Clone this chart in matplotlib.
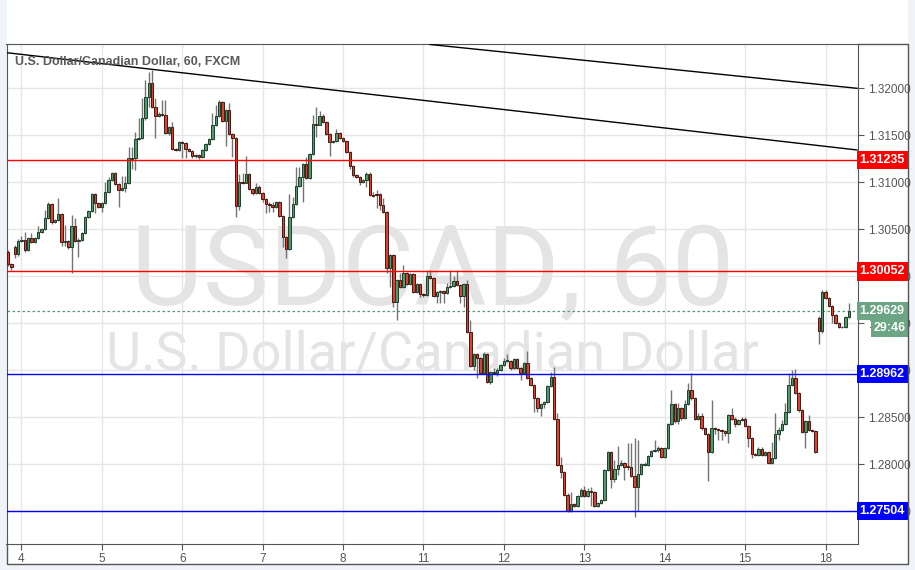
import numpy as np
import matplotlib
matplotlib.use('Agg')
import matplotlib.pyplot as plt
import matplotlib.transforms as mtransforms
from matplotlib.patches import Rectangle
from matplotlib.lines import Line2D

# hourly USDCAD candles
opens = [
    1.3026, 1.3013, 1.3031, 1.3024, 1.3038, 1.3039, 1.3028, 1.3041, 1.3036, 1.3041, 1.3047, 1.3050,
    1.3062, 1.3077, 1.3058, 1.3060, 1.3066, 1.3036, 1.3038, 1.3031, 1.3054, 1.3038, 1.3039, 1.3046,
    1.3063, 1.3069, 1.3088, 1.3078, 1.3074, 1.3078, 1.3090, 1.3102, 1.3110, 1.3098, 1.3092, 1.3094,
    1.3099, 1.3126, 1.3126, 1.3146, 1.3147, 1.3168, 1.3191, 1.3206, 1.3180, 1.3171, 1.3173, 1.3172,
    1.3152, 1.3159, 1.3135, 1.3134, 1.3143, 1.3142, 1.3135, 1.3133, 1.3128, 1.3129, 1.3127, 1.3134,
    1.3141, 1.3146, 1.3161, 1.3171, 1.3185, 1.3165, 1.3177, 1.3151, 1.3147, 1.3075, 1.3100, 1.3099,
    1.3109, 1.3093, 1.3089, 1.3095, 1.3089, 1.3082, 1.3077, 1.3076, 1.3074, 1.3079, 1.3064, 1.3042,
    1.3029, 1.3063, 1.3077, 1.3096, 1.3106, 1.3119, 1.3105, 1.3130, 1.3162, 1.3161, 1.3171, 1.3164,
    1.3151, 1.3143, 1.3144, 1.3152, 1.3147, 1.3144, 1.3132, 1.3117, 1.3108, 1.3106, 1.3100, 1.3102,
    1.3109, 1.3086, 1.3088, 1.3088, 1.3076, 1.3068, 1.3009, 1.3023, 1.2973, 1.2996, 1.2989, 1.3004,
    1.2992, 1.3002, 1.2983, 1.2992, 1.2981, 1.2980, 1.3000, 1.2998, 1.2979, 1.2983, 1.2984, 1.2982,
    1.2989, 1.2990, 1.2995, 1.2991, 1.2979, 1.2992, 1.2941, 1.2905, 1.2917, 1.2913, 1.2897, 1.2917,
    1.2888, 1.2898, 1.2897, 1.2900, 1.2906, 1.2910, 1.2910, 1.2902, 1.2912, 1.2902, 1.2897, 1.2908,
    1.2892, 1.2884, 1.2871, 1.2860, 1.2864, 1.2866, 1.2883, 1.2893, 1.2848, 1.2799, 1.2792, 1.2767,
    1.2750, 1.2758, 1.2756, 1.2766, 1.2773, 1.2766, 1.2772, 1.2771, 1.2756, 1.2759, 1.2762, 1.2794,
    1.2813, 1.2784, 1.2795, 1.2799, 1.2801, 1.2798, 1.2797, 1.2788, 1.2776, 1.2790, 1.2799, 1.2799,
    1.2809, 1.2814, 1.2815, 1.2817, 1.2808, 1.2817, 1.2843, 1.2864, 1.2846, 1.2860, 1.2849, 1.2864,
    1.2879, 1.2871, 1.2848, 1.2851, 1.2839, 1.2832, 1.2813, 1.2839, 1.2838, 1.2837, 1.2835, 1.2833,
    1.2852, 1.2848, 1.2843, 1.2848, 1.2848, 1.2841, 1.2828, 1.2811, 1.2810, 1.2816, 1.2810, 1.2813,
    1.2801, 1.2807, 1.2832, 1.2837, 1.2843, 1.2856, 1.2884, 1.2892, 1.2876, 1.2858, 1.2834, 1.2846,
    1.2837, 1.2835, 1.2956, 1.2942, 1.2983, 1.2977, 1.2968, 1.2959, 1.2950, 1.2946, 1.2946, 1.2957,
]
highs = [
    1.3028, 1.3014, 1.3033, 1.3040, 1.3043, 1.3047, 1.3042, 1.3046, 1.3042, 1.3054, 1.3051, 1.3071,
    1.3079, 1.3078, 1.3061, 1.3083, 1.3067, 1.3055, 1.3039, 1.3065, 1.3062, 1.3041, 1.3047, 1.3064,
    1.3071, 1.3089, 1.3089, 1.3079, 1.3079, 1.3100, 1.3106, 1.3111, 1.3111, 1.3099, 1.3107, 1.3107,
    1.3138, 1.3138, 1.3154, 1.3168, 1.3190, 1.3209, 1.3217, 1.3219, 1.3190, 1.3175, 1.3188, 1.3188,
    1.3160, 1.3164, 1.3136, 1.3144, 1.3144, 1.3143, 1.3136, 1.3134, 1.3130, 1.3130, 1.3135, 1.3142,
    1.3147, 1.3174, 1.3182, 1.3188, 1.3186, 1.3178, 1.3184, 1.3152, 1.3148, 1.3109, 1.3110, 1.3128,
    1.3110, 1.3094, 1.3099, 1.3097, 1.3090, 1.3083, 1.3079, 1.3079, 1.3080, 1.3080, 1.3065, 1.3043,
    1.3088, 1.3084, 1.3116, 1.3116, 1.3121, 1.3127, 1.3131, 1.3172, 1.3180, 1.3176, 1.3173, 1.3165,
    1.3152, 1.3145, 1.3157, 1.3154, 1.3148, 1.3145, 1.3133, 1.3118, 1.3109, 1.3107, 1.3104, 1.3111,
    1.3111, 1.3090, 1.3092, 1.3089, 1.3083, 1.3069, 1.3024, 1.3024, 1.2997, 1.3004, 1.3012, 1.3005,
    1.3004, 1.3004, 1.2993, 1.2993, 1.2982, 1.3007, 1.3007, 1.2999, 1.2984, 1.2985, 1.2985, 1.2993,
    1.3007, 1.3000, 1.3007, 1.2992, 1.2993, 1.2996, 1.2954, 1.2918, 1.2918, 1.2914, 1.2919, 1.2918,
    1.2899, 1.2902, 1.2902, 1.2907, 1.2913, 1.2917, 1.2911, 1.2913, 1.2913, 1.2904, 1.2909, 1.2921,
    1.2893, 1.2885, 1.2872, 1.2865, 1.2867, 1.2884, 1.2898, 1.2904, 1.2855, 1.2808, 1.2793, 1.2769,
    1.2771, 1.2759, 1.2767, 1.2775, 1.2777, 1.2775, 1.2776, 1.2772, 1.2760, 1.2763, 1.2795, 1.2814,
    1.2814, 1.2805, 1.2819, 1.2805, 1.2802, 1.2823, 1.2823, 1.2828, 1.2826, 1.2801, 1.2802, 1.2810,
    1.2815, 1.2826, 1.2819, 1.2818, 1.2818, 1.2844, 1.2879, 1.2865, 1.2865, 1.2861, 1.2868, 1.2887,
    1.2897, 1.2872, 1.2855, 1.2855, 1.2840, 1.2833, 1.2868, 1.2840, 1.2839, 1.2838, 1.2837, 1.2854,
    1.2860, 1.2850, 1.2848, 1.2850, 1.2850, 1.2842, 1.2829, 1.2812, 1.2818, 1.2818, 1.2814, 1.2814,
    1.2824, 1.2855, 1.2840, 1.2847, 1.2865, 1.2897, 1.2900, 1.2901, 1.2877, 1.2859, 1.2847, 1.2852,
    1.2838, 1.2837, 1.2958, 1.2985, 1.2985, 1.2978, 1.2969, 1.2960, 1.2951, 1.2947, 1.2958, 1.2972,
]
lows = [
    1.3011, 1.3007, 1.3019, 1.3022, 1.3036, 1.3026, 1.3027, 1.3035, 1.3035, 1.3040, 1.3046, 1.3049,
    1.3061, 1.3056, 1.3057, 1.3059, 1.3032, 1.3032, 1.3029, 1.3004, 1.3036, 1.3021, 1.3038, 1.3045,
    1.3062, 1.3068, 1.3067, 1.3073, 1.3068, 1.3077, 1.3089, 1.3101, 1.3097, 1.3074, 1.3091, 1.3090,
    1.3098, 1.3114, 1.3113, 1.3145, 1.3146, 1.3166, 1.3180, 1.3179, 1.3147, 1.3169, 1.3171, 1.3151,
    1.3150, 1.3134, 1.3133, 1.3133, 1.3126, 1.3126, 1.3132, 1.3126, 1.3126, 1.3125, 1.3126, 1.3133,
    1.3140, 1.3145, 1.3160, 1.3169, 1.3164, 1.3139, 1.3150, 1.3127, 1.3063, 1.3071, 1.3098, 1.3099,
    1.3092, 1.3086, 1.3088, 1.3088, 1.3079, 1.3067, 1.3068, 1.3068, 1.3073, 1.3063, 1.3031, 1.3019,
    1.3028, 1.3062, 1.3076, 1.3095, 1.3079, 1.3104, 1.3104, 1.3129, 1.3148, 1.3161, 1.3163, 1.3150,
    1.3128, 1.3142, 1.3143, 1.3146, 1.3143, 1.3131, 1.3114, 1.3106, 1.3105, 1.3097, 1.3099, 1.3095,
    1.3085, 1.3084, 1.3073, 1.3071, 1.3067, 1.3004, 1.2989, 1.2967, 1.2954, 1.2988, 1.2988, 1.2991,
    1.2991, 1.2982, 1.2982, 1.2978, 1.2978, 1.2979, 1.2997, 1.2978, 1.2972, 1.2972, 1.2972, 1.2981,
    1.2988, 1.2989, 1.2990, 1.2972, 1.2967, 1.2940, 1.2904, 1.2900, 1.2892, 1.2896, 1.2896, 1.2887,
    1.2885, 1.2896, 1.2894, 1.2899, 1.2905, 1.2909, 1.2900, 1.2901, 1.2901, 1.2890, 1.2896, 1.2891,
    1.2883, 1.2856, 1.2856, 1.2851, 1.2860, 1.2865, 1.2882, 1.2847, 1.2798, 1.2785, 1.2766, 1.2749,
    1.2749, 1.2755, 1.2755, 1.2765, 1.2765, 1.2765, 1.2756, 1.2755, 1.2755, 1.2758, 1.2761, 1.2793,
    1.2775, 1.2781, 1.2789, 1.2798, 1.2783, 1.2794, 1.2787, 1.2744, 1.2750, 1.2789, 1.2798, 1.2798,
    1.2808, 1.2813, 1.2813, 1.2807, 1.2807, 1.2816, 1.2842, 1.2844, 1.2843, 1.2847, 1.2848, 1.2863,
    1.2868, 1.2847, 1.2847, 1.2837, 1.2831, 1.2782, 1.2812, 1.2832, 1.2826, 1.2826, 1.2830, 1.2823,
    1.2847, 1.2840, 1.2842, 1.2846, 1.2840, 1.2818, 1.2807, 1.2809, 1.2809, 1.2809, 1.2809, 1.2800,
    1.2800, 1.2806, 1.2826, 1.2835, 1.2842, 1.2855, 1.2883, 1.2875, 1.2856, 1.2833, 1.2817, 1.2835,
    1.2834, 1.2812, 1.2928, 1.2940, 1.2976, 1.2967, 1.2950, 1.2949, 1.2945, 1.2945, 1.2945, 1.2956,
]
closes = [
    1.3013, 1.3010, 1.3024, 1.3038, 1.3039, 1.3028, 1.3041, 1.3036, 1.3041, 1.3047, 1.3050, 1.3062,
    1.3077, 1.3058, 1.3060, 1.3066, 1.3036, 1.3038, 1.3031, 1.3054, 1.3038, 1.3039, 1.3046, 1.3063,
    1.3069, 1.3088, 1.3078, 1.3074, 1.3078, 1.3090, 1.3102, 1.3110, 1.3098, 1.3092, 1.3094, 1.3099,
    1.3126, 1.3125, 1.3146, 1.3147, 1.3168, 1.3191, 1.3206, 1.3180, 1.3171, 1.3173, 1.3172, 1.3152,
    1.3159, 1.3135, 1.3134, 1.3143, 1.3142, 1.3135, 1.3133, 1.3128, 1.3129, 1.3127, 1.3134, 1.3141,
    1.3146, 1.3161, 1.3171, 1.3185, 1.3165, 1.3177, 1.3151, 1.3147, 1.3075, 1.3100, 1.3099, 1.3109,
    1.3093, 1.3089, 1.3095, 1.3089, 1.3082, 1.3077, 1.3076, 1.3074, 1.3079, 1.3064, 1.3042, 1.3029,
    1.3063, 1.3077, 1.3096, 1.3106, 1.3119, 1.3105, 1.3130, 1.3162, 1.3161, 1.3171, 1.3164, 1.3151,
    1.3143, 1.3144, 1.3152, 1.3147, 1.3144, 1.3132, 1.3117, 1.3108, 1.3106, 1.3100, 1.3102, 1.3109,
    1.3086, 1.3085, 1.3087, 1.3076, 1.3068, 1.3009, 1.3023, 1.2973, 1.2996, 1.2989, 1.3004, 1.2992,
    1.3002, 1.2983, 1.2992, 1.2981, 1.2980, 1.3000, 1.2998, 1.2979, 1.2983, 1.2984, 1.2982, 1.2989,
    1.2990, 1.2995, 1.2991, 1.2979, 1.2992, 1.2941, 1.2905, 1.2917, 1.2913, 1.2897, 1.2917, 1.2888,
    1.2898, 1.2897, 1.2900, 1.2906, 1.2910, 1.2911, 1.2902, 1.2912, 1.2902, 1.2897, 1.2908, 1.2892,
    1.2884, 1.2871, 1.2860, 1.2864, 1.2866, 1.2883, 1.2893, 1.2848, 1.2799, 1.2792, 1.2767, 1.2750,
    1.2758, 1.2756, 1.2766, 1.2773, 1.2766, 1.2772, 1.2771, 1.2756, 1.2759, 1.2762, 1.2794, 1.2813,
    1.2784, 1.2795, 1.2799, 1.2801, 1.2797, 1.2797, 1.2788, 1.2776, 1.2790, 1.2800, 1.2800, 1.2809,
    1.2814, 1.2815, 1.2817, 1.2808, 1.2817, 1.2843, 1.2864, 1.2846, 1.2860, 1.2849, 1.2864, 1.2879,
    1.2871, 1.2848, 1.2851, 1.2839, 1.2832, 1.2813, 1.2839, 1.2838, 1.2837, 1.2835, 1.2833, 1.2852,
    1.2848, 1.2843, 1.2847, 1.2847, 1.2841, 1.2828, 1.2811, 1.2810, 1.2816, 1.2810, 1.2813, 1.2801,
    1.2807, 1.2832, 1.2837, 1.2843, 1.2856, 1.2884, 1.2892, 1.2876, 1.2858, 1.2834, 1.2846, 1.2837,
    1.2835, 1.2813, 1.2942, 1.2983, 1.2977, 1.2968, 1.2959, 1.2950, 1.2946, 1.2946, 1.2957, 1.2963,
]

# first bar of each day and its label
day_bars = [4, 28, 52, 76, 100, 124, 148, 172, 196, 220, 244]
day_labels = ['4', '5', '6', '7', '8', '11', '12', '13', '14', '15', '18']

levels = [1.31235, 1.30052, 1.28962, 1.27504]
level_colors = ['#ff0000', '#ff0000', '#0000ff', '#0000ff']

last_price = 1.29629
countdown = '29:46'

# trendline anchors (bar index, price)
trend_low_x = [-0.45, 253.4]
trend_low_y = [1.32379, 1.31344]
trend_high_x = [126.0, 253.4]
trend_high_y = [1.32466, 1.32000]

W, H = 915, 570
def fx(px):
    return px / W
def fy(py):
    return 1 - py / H

fig = plt.figure(figsize=(W / 100, H / 100), dpi=100, facecolor='#f0f3f7')
fig.add_artist(Rectangle((fx(6.5), fy(563.5)), fx(908) - fx(6.5), fy(0) - fy(563.5),
                         transform=fig.transFigure, facecolor='white', edgecolor='none', zorder=-10))
ax = fig.add_axes([fx(6.5), fy(544), fx(858) - fx(6.5), fy(43.5) - fy(544)])
fig.add_artist(Line2D([fx(858), fx(908), fx(908), fx(6.5), fx(6.5)],
                      [fy(43.5), fy(43.5), fy(563.5), fy(563.5), fy(544)],
                      transform=fig.transFigure, color='#555555', lw=1))

x = np.arange(len(closes))
o = np.array(opens)
c = np.array(closes)
up = c >= o
fill = np.where(up, '#4e9a6d', '#d6432e')
edge = np.where(up, '#1f3f2c', '#4a1710')

ax.vlines(x, lows, highs, color='#737373', lw=1, zorder=2)
ax.bar(x, np.abs(c - o), bottom=np.minimum(o, c), width=0.72, color=fill,
       edgecolor=edge, linewidth=0.7, zorder=3)

ax.axhline(last_price, color='#4f9c74', lw=0.9, ls=(0, (2, 2)), zorder=1.5)
for lv, col in zip(levels, level_colors):
    ax.axhline(lv, color=col, lw=1, zorder=4)
ax.plot(trend_low_x, trend_low_y, color='black', lw=1, zorder=4)
ax.plot(trend_high_x, trend_high_y, color='black', lw=1, zorder=4)

ax.set_xlim(-0.45, 253.7)
ax.set_ylim(1.271521, 1.324766)

yt = np.arange(1.275, 1.3201, 0.005)
ax.set_yticks(yt)
ax.set_yticklabels([f'{v:.5f}' for v in yt])
ax.set_xticks(day_bars)
ax.set_xticklabels(day_labels)
ax.yaxis.tick_right()
ax.tick_params(axis='both', length=4, color='#555555', labelcolor='#555555', labelsize=8.5)
ax.tick_params(axis='y', pad=3)
ax.tick_params(axis='x', pad=2.5)
for lab in ax.get_xticklabels() + ax.get_yticklabels():
    lab.set_fontfamily('Liberation Sans')
ax.grid(color='#e6e6e6', lw=1, zorder=0)
ax.set_axisbelow(True)
for s in ax.spines.values():
    s.set_color('#555555')

trans = mtransforms.blended_transform_factory(ax.transAxes, ax.transData)
for lv, col in zip(levels, level_colors):
    ax.text(1.002, lv, f'{lv:.5f}', transform=trans, ha='left', va='center', color='white',
            fontsize=9, fontweight='bold', family='Liberation Sans', clip_on=False, zorder=6,
            bbox=dict(boxstyle='square,pad=0.25', fc=col, ec='none'))
ax.text(1.002, last_price, f'{last_price:.5f}', transform=trans, ha='left', va='center',
        color='white', fontsize=9, fontweight='bold', family='Liberation Sans', clip_on=False,
        zorder=6, bbox=dict(boxstyle='square,pad=0.25', fc='#6ba583', ec='none'))
ax.text(1.0565, 1.29455, countdown, transform=trans, ha='right', va='center',
        color='white', fontsize=9, fontweight='bold', family='Liberation Sans', clip_on=False,
        zorder=6, bbox=dict(boxstyle='square,pad=0.25', fc='#6ba583', ec='none'))

# watermark and symbol title
ax.text(0.5, 0.4775, 'USDCAD, 60', transform=ax.transAxes, ha='center', va='baseline',
        fontsize=80, color='#e4e4e4', family='Roboto', zorder=0.5)
ax.text(0.5, 0.3477, 'U.S. Dollar/Canadian Dollar', transform=ax.transAxes, ha='center',
        va='baseline', fontsize=39, color='#e4e4e4', family='Roboto', zorder=0.5)
ax.text(0.01, 0.957, 'U.S. Dollar/Canadian Dollar, 60, FXCM', transform=ax.transAxes,
        ha='left', va='baseline', fontsize=9, fontweight='bold', color='#5a5a5a',
        family='Liberation Sans', zorder=5)

fig.savefig('out.png', dpi=100, facecolor=fig.get_facecolor())
